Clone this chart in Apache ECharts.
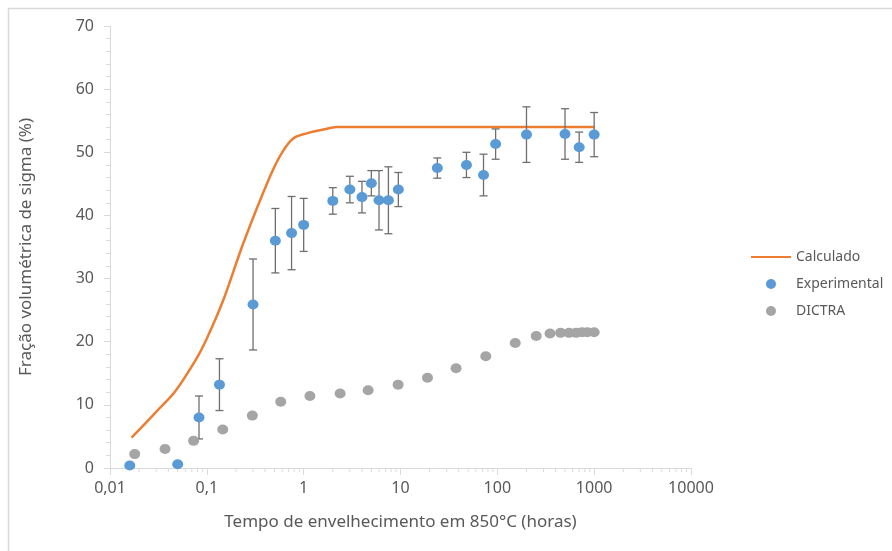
<!DOCTYPE html>
<html>
<head>
<meta charset="utf-8">
<script src="https://cdn.jsdelivr.net/npm/echarts@6/dist/echarts.min.js"></script>
<style>
  html, body { margin: 0; padding: 0; background: #fff; }
  #grafico { width: 892px; height: 551px; }
</style>
</head>
<body>
<div id="grafico"></div>
<script>
// Curva calculada (tempo em horas, fração em %)
const calcX = [0.0167, 0.03, 0.047, 0.0787, 0.1, 0.148, 0.238, 0.45, 0.6, 0.78, 1.08, 1.6, 2.2, 3, 1000];
const calcY = [4.8, 8.9, 12.1, 17.4, 20.5, 26.6, 35.6, 46.2, 50.0, 52.2, 53.0, 53.6, 54.0, 54.0, 54.0];

// Pontos experimentais com barras de erro (±)
const expX = [0.016, 0.05, 0.083, 0.135, 0.3, 0.51, 0.75, 1, 2, 3, 4, 5, 6, 7.5, 9.5, 24, 48, 72, 96, 200, 500, 700, 1000];
const expY = [0.4, 0.6, 8.0, 13.2, 25.9, 36.0, 37.2, 38.5, 42.3, 44.1, 42.9, 45.1, 42.4, 42.4, 44.1, 47.5, 48.0, 46.4, 51.3, 52.8, 52.9, 50.8, 52.8];
const expErr = [0, 0, 3.4, 4.1, 7.2, 5.1, 5.8, 4.2, 2.1, 2.1, 2.5, 2.0, 4.7, 5.3, 2.7, 1.6, 2.0, 3.3, 2.4, 4.4, 4.0, 2.4, 3.5];

// Simulação DICTRA
const dictraX = [0.018, 0.037, 0.073, 0.146, 0.295, 0.58, 1.16, 2.38, 4.63, 9.45, 19, 37.5, 76, 153, 252, 350, 450, 550, 650, 750, 850, 1000];
const dictraY = [2.2, 3.0, 4.3, 6.1, 8.3, 10.5, 11.4, 11.8, 12.3, 13.2, 14.3, 15.8, 17.7, 19.8, 20.9, 21.3, 21.4, 21.4, 21.4, 21.5, 21.5, 21.5];

// Décadas do eixo logarítmico
const decades = [0.01, 0.1, 1, 10, 100, 1000, 10000];

const FONT = 'Noto Sans';
const TXT = '#595959';
const AXIS = '#d9d9d9';

const zip = (xs, ys) => xs.map((x, i) => [x, ys[i]]);

// marcas secundárias do eixo log (2..9 em cada década)
const minorTicks = [];
decades.slice(0, -1).forEach(d => {
  for (let m = 2; m <= 9; m++) minorTicks.push([d * m, 0]);
});

const fmtLog = v => v >= 1 ? String(Math.round(v)) : String(+v.toPrecision(1)).replace('.', ',');

const chartDom = document.getElementById('grafico');
const myChart = echarts.init(chartDom);

const option = {
  animation: false,
  textStyle: { fontFamily: FONT },
  graphic: [{
    type: 'rect',
    z: -10,
    shape: { x: 8.5, y: 8.5, width: 1000, height: 1000 },
    style: { fill: 'none', stroke: AXIS, lineWidth: 1.5 }
  }],
  grid: { left: 110, right: 201, top: 26, bottom: 83 },
  legend: {
    orient: 'vertical',
    left: 745,
    top: 245,
    itemWidth: 40,
    itemHeight: 10,
    itemGap: 13,
    textStyle: { color: TXT, fontSize: 14, fontFamily: FONT },
    data: [
      { name: 'Calculado', itemStyle: { opacity: 0 } },
      'Experimental',
      'DICTRA'
    ]
  },
  xAxis: {
    type: 'log',
    logBase: 10,
    min: 0.01,
    max: 10000,
    name: 'Tempo de envelhecimento em 850°C (horas)',
    nameLocation: 'middle',
    nameGap: 46,
    nameTextStyle: { color: TXT, fontSize: 17, fontFamily: FONT },
    axisLine: { lineStyle: { color: AXIS, width: 1 } },
    axisTick: { length: 7, lineStyle: { color: AXIS } },
    axisLabel: { color: TXT, fontSize: 16, margin: 12, formatter: fmtLog },
    splitLine: { show: false }
  },
  yAxis: {
    type: 'value',
    min: 0,
    max: 70,
    interval: 10,
    name: 'Fração volumétrica de sigma (%)',
    nameLocation: 'middle',
    nameGap: 75,
    nameTextStyle: { color: TXT, fontSize: 17, fontFamily: FONT },
    axisLine: { show: true, lineStyle: { color: AXIS, width: 1 } },
    axisTick: { show: true, length: 6, lineStyle: { color: AXIS } },
    minorTick: { show: true, splitNumber: 5, length: 4, lineStyle: { color: AXIS } },
    axisLabel: { color: TXT, fontSize: 16, margin: 16 },
    splitLine: { show: false }
  },
  series: [
    {
      // marcas menores do eixo x
      type: 'custom',
      silent: true,
      clip: false,
      data: minorTicks,
      renderItem: (params, api) => {
        const p = api.coord([api.value(0), 0]);
        return {
          type: 'line',
          shape: { x1: p[0], y1: p[1], x2: p[0], y2: p[1] + 4 },
          style: { stroke: AXIS, lineWidth: 1 }
        };
      }
    },
    {
      name: 'Calculado',
      type: 'line',
      data: zip(calcX, calcY),
      smooth: 0.3,
      symbol: 'none',
      lineStyle: { color: '#ED7D31', width: 2.5 },
      itemStyle: { color: '#ED7D31' },
      z: 3
    },
    {
      // barras de erro
      type: 'custom',
      silent: true,
      data: expX.map((x, i) => [x, expY[i] - expErr[i], expY[i] + expErr[i]]).filter((d, i) => expErr[i] > 0),
      renderItem: (params, api) => {
        const lo = api.coord([api.value(0), api.value(1)]);
        const hi = api.coord([api.value(0), api.value(2)]);
        const w = 4;
        const st = { stroke: '#6f6f6f', lineWidth: 1.3 };
        return {
          type: 'group',
          children: [
            { type: 'line', shape: { x1: lo[0], y1: lo[1], x2: hi[0], y2: hi[1] }, style: st },
            { type: 'line', shape: { x1: lo[0] - w, y1: lo[1], x2: lo[0] + w, y2: lo[1] }, style: st },
            { type: 'line', shape: { x1: hi[0] - w, y1: hi[1], x2: hi[0] + w, y2: hi[1] }, style: st }
          ]
        };
      },
      z: 4
    },
    {
      name: 'Experimental',
      type: 'scatter',
      data: zip(expX, expY),
      symbol: 'circle',
      symbolSize: [11, 10],
      itemStyle: { color: '#5B9BD5', opacity: 1 },
      z: 5
    },
    {
      name: 'DICTRA',
      type: 'scatter',
      data: zip(dictraX, dictraY),
      symbol: 'circle',
      symbolSize: [11, 10],
      itemStyle: { color: '#A5A5A5', opacity: 1 },
      z: 5
    }
  ]
};

option && myChart.setOption(option);

window.addEventListener('resize', () => {
  myChart.resize();
});
</script>
</body>
</html>
